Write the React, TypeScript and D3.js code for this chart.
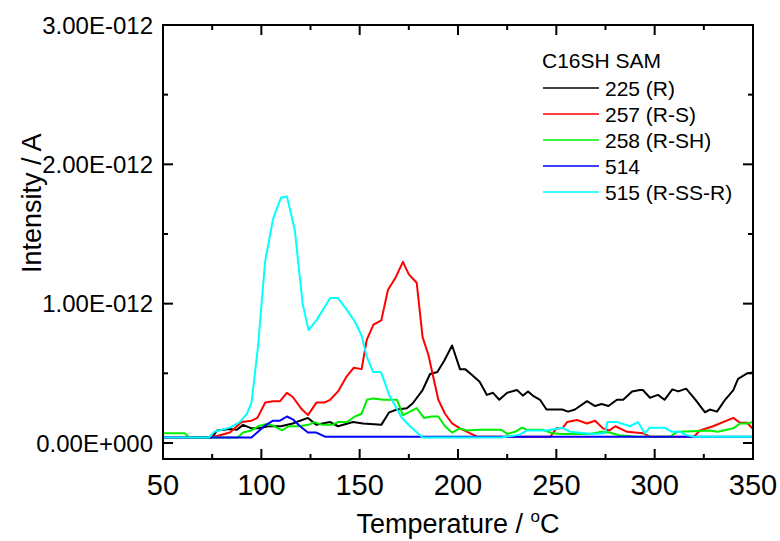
import React from 'react';
import { scaleLinear, line, range } from 'd3';

// values, intensity in units of 1E-012 A
const black225 = [
  [50, 0.04], [75, 0.04], [77.5, 0.09], [84, 0.1], [87.6, 0.095], [90.7, 0.13], [95, 0.105], [99, 0.105],
  [103.5, 0.12], [110, 0.12], [116, 0.14], [119.7, 0.16], [123.7, 0.18], [128, 0.13], [131, 0.14], [135, 0.15],
  [139, 0.12], [146.6, 0.15], [151.7, 0.14], [161, 0.13], [165, 0.22], [169, 0.24], [174, 0.25], [177, 0.285],
  [182, 0.38], [185.8, 0.495], [189.5, 0.51], [193, 0.59], [197, 0.7], [201, 0.53], [203.6, 0.53], [207, 0.49],
  [211, 0.44], [214.7, 0.345], [217.8, 0.36], [221, 0.31], [225, 0.36], [230, 0.38], [233, 0.34], [235.6, 0.37],
  [238, 0.34], [241.7, 0.31], [245, 0.24], [248, 0.24], [253, 0.24], [256, 0.225], [259.5, 0.24], [265.6, 0.3],
  [269.7, 0.265], [273, 0.28], [276.5, 0.265], [280.8, 0.31], [284, 0.31], [288.5, 0.37], [292.5, 0.38],
  [294, 0.38], [297.6, 0.325], [301.7, 0.345], [305, 0.31], [309, 0.385], [312, 0.37], [316, 0.39],
  [320.8, 0.31], [325.6, 0.22], [328, 0.24], [331.7, 0.225], [335.8, 0.31], [340, 0.38], [342.4, 0.46],
  [347, 0.5], [350, 0.505],
];

const red257 = [
  [50, 0.04], [73, 0.04], [77.5, 0.05], [84, 0.075], [90, 0.15], [95, 0.16], [98, 0.18], [102, 0.29],
  [106, 0.3], [109.5, 0.3], [113, 0.36], [116, 0.33], [120.7, 0.24], [123.7, 0.2], [128, 0.29], [132, 0.29],
  [135, 0.31], [139, 0.37], [143.5, 0.48], [147, 0.54], [151, 0.53], [153.6, 0.74], [157, 0.85], [161, 0.88],
  [164.4, 1.1], [168, 1.18], [172, 1.3], [175, 1.21], [179, 1.15], [182, 0.76], [185, 0.63], [187, 0.5],
  [190, 0.31], [193.4, 0.21], [197, 0.14], [201, 0.105], [209.7, 0.045], [247, 0.045], [250, 0.105],
  [253, 0.105], [255.5, 0.15], [260.5, 0.165], [265.6, 0.14], [269.7, 0.16], [273.7, 0.105], [277, 0.09],
  [280, 0.12], [286, 0.08], [294, 0.07], [297.6, 0.045], [320, 0.045], [323, 0.09], [329.7, 0.12],
  [340, 0.18], [343.4, 0.145], [347, 0.145], [350, 0.1],
];

const green258 = [
  [50, 0.07], [61, 0.07], [63.5, 0.04], [88, 0.04], [90.7, 0.075], [95, 0.09], [98.3, 0.12], [102.2, 0.135],
  [106, 0.125], [110.5, 0.09], [114, 0.12], [119, 0.12], [124, 0.13], [127, 0.15], [131, 0.13], [136, 0.13],
  [139, 0.15], [143.5, 0.15], [147.6, 0.19], [151, 0.21], [153.7, 0.31], [156.8, 0.32], [162, 0.31],
  [169, 0.31], [172, 0.2], [175.6, 0.225], [179, 0.25], [182.7, 0.18], [186.5, 0.19], [190, 0.19],
  [193.4, 0.12], [197, 0.075], [201, 0.105], [204.6, 0.09], [211, 0.095], [222, 0.095], [225, 0.065],
  [229, 0.08], [232.5, 0.11], [235, 0.095], [243, 0.095], [248, 0.07], [253, 0.065], [267, 0.065],
  [273, 0.08], [277, 0.075], [282, 0.055], [291, 0.045], [307.8, 0.045], [311.4, 0.08], [319.5, 0.085],
  [328, 0.09], [332, 0.08], [340, 0.105], [343.4, 0.14], [347, 0.14], [350, 0.15],
];

const blue514 = [
  [50, 0.04], [95, 0.04], [98.3, 0.08], [102.4, 0.13], [106, 0.16], [109.5, 0.16], [113, 0.19], [116, 0.17],
  [119.7, 0.12], [123.7, 0.075], [128, 0.075], [132.4, 0.045], [250, 0.045], [350, 0.045],
];

const cyan515 = [
  [50, 0.04], [73.4, 0.04], [76, 0.08], [84, 0.11], [89, 0.15], [92.7, 0.21], [95, 0.29], [98.3, 0.69],
  [101.9, 1.3], [106, 1.61], [110, 1.76], [113, 1.77], [117, 1.53], [121, 1.0], [124, 0.81], [128, 0.88],
  [135, 1.04], [139, 1.04], [143.5, 0.955], [147.6, 0.87], [151, 0.77], [153.6, 0.62], [156.8, 0.51],
  [160.8, 0.51], [165, 0.345], [171.5, 0.18], [175.6, 0.12], [182, 0.04], [222, 0.04], [231.5, 0.06],
  [235, 0.09], [245, 0.09], [253, 0.11], [257, 0.08], [268.6, 0.065], [274.7, 0.07], [276, 0.15], [281, 0.15],
  [287.5, 0.12], [291.5, 0.15], [295, 0.07], [297.6, 0.11], [305, 0.11], [308.8, 0.08], [313, 0.08],
  [315.4, 0.06], [320, 0.045], [350, 0.045],
];

const seriesNames = ['225 (R)', '257 (R-S)', '258 (R-SH)', '514', '515 (R-SS-R)'];
const seriesData = [black225, red257, green258, blue514, cyan515];
const seriesColors = ['#000000', '#ff0000', '#00ee00', '#0000ff', '#00ffff'];

const xMajor = [50, 100, 150, 200, 250, 300, 350];
const xMinor = [75, 125, 175, 225, 275, 325];
const yMajor = [0, 1, 2, 3];
const yMinor = [0.5, 1.5, 2.5];

const W = 780;
const H = 541;
const margin = { left: 163, right: 27, top: 25, bottom: 82 };
const font = '"Liberation Sans", Arial, sans-serif';

const fmtY = (v: number) => (v === 0 ? '0.00E+000' : `${v.toFixed(2)}E-012`);

export default function App() {
  const x = scaleLinear().domain([50, 350]).range([margin.left, W - margin.right]);
  const y = scaleLinear().domain([-0.115, 3]).range([H - margin.bottom, margin.top]);
  const path = line<number[]>()
    .x(d => x(d[0]))
    .y(d => y(d[1]));

  const [x0, x1] = x.range();
  const [y0, y1] = y.range(); // y0 bottom, y1 top

  return (
    <svg width={W} height={H} style={{ position: 'absolute', left: 0, top: 0, background: '#fff' }}>
      <rect x={0} y={0} width={W} height={H} fill="#fff" />

      {/* data */}
      <g fill="none" strokeWidth={2} strokeLinejoin="round">
        {seriesData.map((d, i) => (
          <path key={seriesNames[i]} d={path(d) || ''} stroke={seriesColors[i]} />
        ))}
      </g>

      {/* frame */}
      <rect x={x0} y={y1} width={x1 - x0} height={y0 - y1} fill="none" stroke="#000" strokeWidth={2} />

      {/* ticks, pointing inward on all four sides */}
      <g stroke="#000" strokeWidth={2}>
        {xMajor.map(v => (
          <g key={'xM' + v}>
            <line x1={x(v)} x2={x(v)} y1={y0} y2={y0 - 10} />
            <line x1={x(v)} x2={x(v)} y1={y1} y2={y1 + 10} />
          </g>
        ))}
        {xMinor.map(v => (
          <g key={'xm' + v}>
            <line x1={x(v)} x2={x(v)} y1={y0} y2={y0 - 5} />
            <line x1={x(v)} x2={x(v)} y1={y1} y2={y1 + 5} />
          </g>
        ))}
        {yMajor.map(v => (
          <g key={'yM' + v}>
            <line x1={x0} x2={x0 + 10} y1={y(v)} y2={y(v)} />
            <line x1={x1} x2={x1 - 10} y1={y(v)} y2={y(v)} />
          </g>
        ))}
        {yMinor.map(v => (
          <g key={'ym' + v}>
            <line x1={x0} x2={x0 + 5} y1={y(v)} y2={y(v)} />
            <line x1={x1} x2={x1 - 5} y1={y(v)} y2={y(v)} />
          </g>
        ))}
      </g>

      {/* tick labels */}
      <g fontFamily={font} fill="#000">
        {xMajor.map(v => (
          <text key={'xl' + v} x={x(v)} y={495} fontSize={29} textAnchor="middle">{v}</text>
        ))}
        {yMajor.map(v => (
          <text key={'yl' + v} x={x0 - 10} y={y(v)} dy="0.36em" fontSize={24} textAnchor="end">{fmtY(v)}</text>
        ))}
      </g>

      {/* axis titles */}
      <text x={(x0 + x1) / 2} y={533} fontFamily={font} fontSize={27} textAnchor="middle">
        Temperature / <tspan fontSize={17} dy={-11}>o</tspan><tspan dy={11}>C</tspan>
      </text>
      <text transform="translate(41,273) rotate(-90)" fontFamily={font} fontSize={27} textAnchor="start">
        Intensity / A
      </text>

      {/* legend */}
      <g fontFamily={font} fontSize={21}>
        <text x={542} y={68}>C16SH SAM</text>
        {range(seriesNames.length).map(i => {
          const ly = 88 + i * 26;
          return (
            <g key={'lg' + i}>
              <line x1={543} x2={599} y1={ly} y2={ly} stroke={seriesColors[i]} strokeWidth={1.5} />
              <text x={605} y={ly} dy="0.36em">{seriesNames[i]}</text>
            </g>
          );
        })}
      </g>
    </svg>
  );
}
